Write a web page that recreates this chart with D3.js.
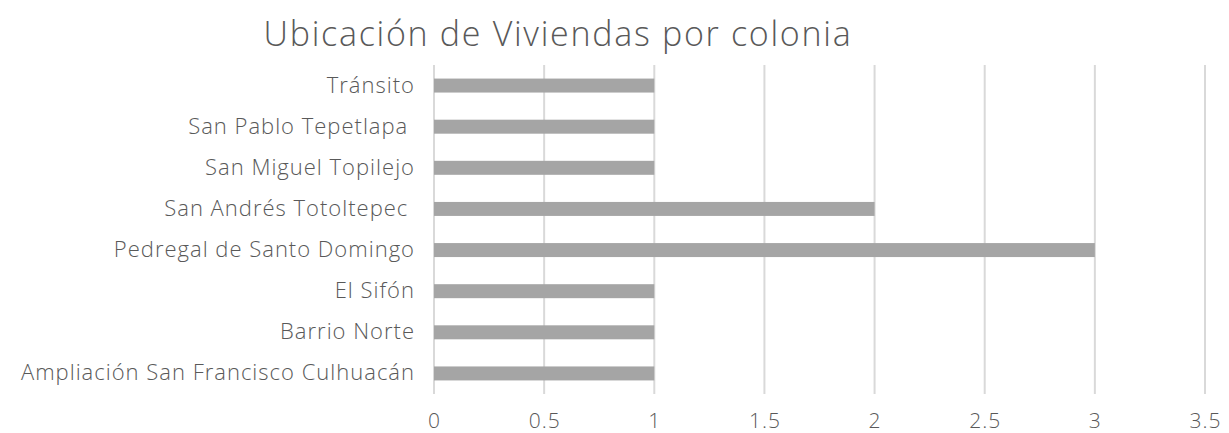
<!DOCTYPE html>
<html>
<head>
<meta charset="utf-8">
<script src="https://cdn.jsdelivr.net/npm/d3@7"></script>
<style>
  body { margin: 0; background: #fff; }
  text { font-family: "Open Sans", Lato, sans-serif; font-weight: 300; fill: #595959; white-space: pre; }
</style>
</head>
<body>
<div id="chart"></div>
<script>
var colonias = ["Tránsito", "San Pablo Tepetlapa ", "San Miguel Topilejo", "San Andrés Totoltepec ",
  "Pedregal de Santo Domingo", "El Sifón", "Barrio Norte", "Ampliación San Francisco Culhuacán"];
var viviendas = [1, 1, 1, 2, 3, 1, 1, 1];
var ticks = [0, 0.5, 1, 1.5, 2, 2.5, 3, 3.5];
var titulo = "Ubicación de Viviendas por colonia";

var width = 1229, height = 433;
var margin = {top: 65, right: 24, bottom: 39, left: 434};

var svg = d3.select("#chart").append("svg")
  .attr("width", width)
  .attr("height", height);

var x = d3.scaleLinear()
  .domain([0, 3.5])
  .range([margin.left, width - margin.right]);

var y = d3.scaleBand()
  .domain(colonias)
  .range([margin.top, height - margin.bottom])
  .paddingInner(0.66)
  .paddingOuter(0.33);

// grid lines
svg.append("g")
  .selectAll("line")
  .data(ticks)
  .enter().append("line")
  .attr("x1", function(d) { return x(d); })
  .attr("x2", function(d) { return x(d); })
  .attr("y1", margin.top)
  .attr("y2", height - margin.bottom)
  .attr("stroke", "#d9d9d9")
  .attr("stroke-width", 2);

// bars
svg.append("g")
  .selectAll("rect")
  .data(colonias)
  .enter().append("rect")
  .attr("x", x(0))
  .attr("y", function(d) { return y(d); })
  .attr("width", function(d, i) { return x(viviendas[i]) - x(0); })
  .attr("height", y.bandwidth())
  .attr("fill", "#a5a5a5");

// x axis labels
var xAxis = d3.axisBottom(x).tickValues(ticks).tickSize(0).tickPadding(0)
  .tickFormat(function(d) { return String(d); });
var gx = svg.append("g")
  .attr("transform", "translate(0," + (height - margin.bottom) + ")")
  .call(xAxis);
gx.select(".domain").remove();
gx.selectAll("text")
  .attr("dy", null)
  .attr("y", 34)
  .style("font-size", "21px")
  .style("letter-spacing", "1px")
  .attr("fill", null);

// y axis labels
var yAxis = d3.axisLeft(y).tickSize(0).tickPadding(19);
var gy = svg.append("g")
  .attr("transform", "translate(" + margin.left + ",0)")
  .call(yAxis);
gy.select(".domain").remove();
gy.selectAll("text")
  .style("font-size", "22px")
  .style("letter-spacing", "1px")
  .attr("fill", null);

// title
svg.append("text")
  .attr("x", 558)
  .attr("y", 46)
  .attr("text-anchor", "middle")
  .style("font-size", "34px")
  .style("letter-spacing", "1.7px")
  .text(titulo);
</script>
</body>
</html>
